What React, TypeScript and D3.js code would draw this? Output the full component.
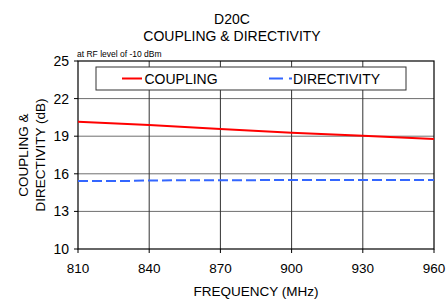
import React from "react";
import * as d3 from "d3";

const freqs = [810, 840, 870, 900, 930, 960];
const coupling = [20.16, 19.89, 19.57, 19.28, 19.04, 18.78];
const dirFreqs = [810, 830, 840, 870, 900, 930, 960];
const directivity = [15.42, 15.42, 15.47, 15.49, 15.5, 15.5, 15.5];
const xTicks = [810, 840, 870, 900, 930, 960];
const yTicks = [10, 13, 16, 19, 22, 25];
const titleLines = ["D20C", "COUPLING & DIRECTIVITY"];
const note = "at RF level of -10 dBm";
const seriesNames = ["COUPLING", "DIRECTIVITY"];

const W = 447, H = 299;
const L = 78, R = 434, T = 61, B = 249;
const FONT = "Arial, 'Liberation Sans', sans-serif";

export default function App() {
  const x = d3.scaleLinear().domain([810, 960]).range([L, R]);
  const y = d3.scaleLinear().domain([10, 25]).range([B, T]);
  const line = d3.line<[number, number]>().x(d => x(d[0])).y(d => y(d[1]));
  const cPath = line(freqs.map((f, i) => [f, coupling[i]]) as [number, number][]) || "";
  const dPath = line(dirFreqs.map((f, i) => [f, directivity[i]]) as [number, number][]) || "";
  return (
    <svg width={W} height={H} style={{ position: "absolute", left: 0, top: 0 }} fontFamily={FONT}>
      <rect x={0} y={0} width={W} height={H} fill="#fff" />
      <text x={232} y={24} textAnchor="middle" fontSize={14}>{titleLines[0]}</text>
      <text x={232} y={41} textAnchor="middle" fontSize={14}>{titleLines[1]}</text>
      <text x={77} y={57} fontSize={8.5}>{note}</text>
      {yTicks.map(t => (
        <g key={"y" + t}>
          {t !== 10 && t !== 25 && <line x1={L} x2={R} y1={y(t)} y2={y(t)} stroke="#6e6e6e" strokeWidth={1} />}
          <line x1={L - 4} x2={L} y1={y(t)} y2={y(t)} stroke="#000" />
          <text x={L - 9} y={y(t) + 5} textAnchor="end" fontSize={14}>{t}</text>
        </g>
      ))}
      {xTicks.map(t => (
        <g key={"x" + t}>
          {t !== 810 && t !== 960 && <line x1={x(t)} x2={x(t)} y1={T} y2={B} stroke="#333" strokeWidth={1} />}
          <line x1={x(t)} x2={x(t)} y1={B} y2={B + 4} stroke="#000" />
          <text x={x(t)} y={273} textAnchor="middle" fontSize={13.5}>{t}</text>
        </g>
      ))}
      <rect x={L} y={T} width={R - L} height={B - T} fill="none" stroke="#000" strokeWidth={1.2} />
      <path d={cPath} fill="none" stroke="#ff0000" strokeWidth={2} />
      <path d={dPath} fill="none" stroke="#3366ff" strokeWidth={2} strokeDasharray="10,4" />
      <rect x={96} y={67} width={310} height={23} fill="#fff" stroke="#333" strokeWidth={1} />
      <line x1={122} x2={142} y1={78.5} y2={78.5} stroke="#ff0000" strokeWidth={2} />
      <text x={144.5} y={84} fontSize={14}>{seriesNames[0]}</text>
      <line x1={269} x2={292} y1={78.5} y2={78.5} stroke="#3366ff" strokeWidth={2} strokeDasharray="14,6" />
      <text x={293} y={84} fontSize={14}>{seriesNames[1]}</text>
      <text x={256} y={296} textAnchor="middle" fontSize={13.5}>FREQUENCY (MHz)</text>
      <text transform={`translate(28,${(T + B) / 2}) rotate(-90)`} textAnchor="middle" fontSize={13.5}>COUPLING &amp;</text>
      <text transform={`translate(45,${(T + B) / 2}) rotate(-90)`} textAnchor="middle" fontSize={13.5}>DIRECTIVITY (dB)</text>
    </svg>
  );
}
